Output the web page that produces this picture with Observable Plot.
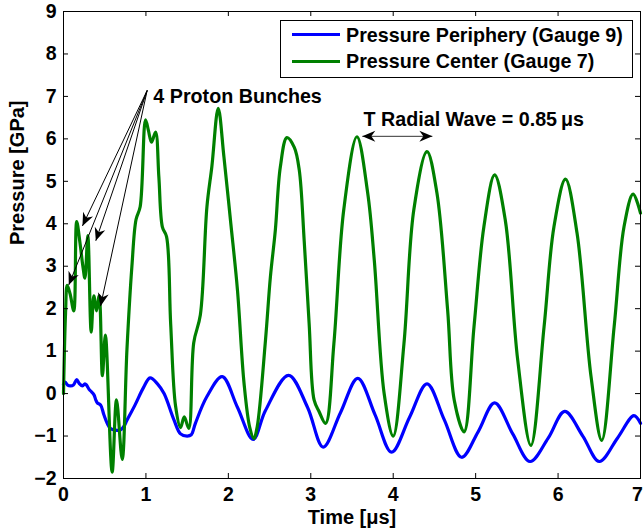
<!DOCTYPE html>
<html><head><meta charset="utf-8">
<script src="https://cdn.jsdelivr.net/npm/d3@7"></script>
<script src="https://cdn.jsdelivr.net/npm/@observablehq/plot@0.6"></script>
<style>
body{margin:0;background:#fff;}
#wrap{position:relative;width:644px;height:531px;font-family:"Liberation Sans",Arial,Helvetica,sans-serif;font-weight:bold;}
#legend{position:absolute;left:280px;top:20px;width:351px;height:56px;border:1px solid #000;background:#fff;}
.row{position:absolute;left:0;height:0;}
.sw{position:absolute;left:11px;width:48px;height:3px;top:-1.5px}
.lab{position:absolute;left:65px;top:-11px;font-size:19.7px;white-space:nowrap;line-height:22px;color:#000}
</style></head><body><div id="wrap"></div>
<script>
// ---- data ----
const seriesNames = ["Pressure Periphery (Gauge 9)", "Pressure Center (Gauge 7)"];
const seriesColors = ["#0000ff", "#008000"];

// [time µs, pressure GPa]
const peripheryData = [[0,0.22],[0.02,0.27],[0.05,0.2],[0.085,0.18],[0.12,0.2],[0.16,0.33],[0.19,0.24],[0.23,0.18],[0.26,0.23],[0.28,0.2],[0.31,0.1],[0.33,0.06],[0.37,-0.03],[0.39,-0.14],[0.41,-0.22],[0.45,-0.27],[0.49,-0.5],[0.53,-0.7],[0.57,-0.82],[0.63,-0.86],[0.69,-0.86],[0.73,-0.78],[0.77,-0.63],[0.87,-0.26],[0.97,0.14],[1.05,0.37],[1.14,0.23],[1.22,0.0],[1.34,-0.62],[1.42,-0.95],[1.5,-1.0],[1.55,-0.97],[1.6,-0.7],[1.74,-0.07],[1.925,0.4],[2.11,-0.32],[2.3,-1.08],[2.45,-0.4],[2.73,0.43],[2.96,-0.32],[3.15,-1.26],[3.36,-0.45],[3.57,0.36],[3.78,-0.5],[3.98,-1.38],[4.2,-0.55],[4.41,0.23],[4.62,-0.62],[4.83,-1.5],[5.03,-0.9],[5.23,-0.22],[5.45,-0.95],[5.66,-1.6],[5.88,-1.05],[6.08,-0.42],[6.3,-1.0],[6.5,-1.6],[6.72,-1.05],[6.92,-0.52],[7.0,-0.7]];

const centerData = [[0,0],[0.025,1.9],[0.045,2.55],[0.08,2.35],[0.125,1.95],[0.16,4.05],[0.2,3.55],[0.235,3.0],[0.26,2.72],[0.295,3.72],[0.336,1.45],[0.368,2.3],[0.40,1.95],[0.433,2.3],[0.472,0.42],[0.508,1.38],[0.59,-1.85],[0.643,-0.15],[0.712,-1.55],[0.77,1.05],[0.83,3.0],[0.88,4.1],[0.93,4.4],[0.995,6.45],[1.03,6.2],[1.068,5.92],[1.117,6.16],[1.157,5.1],[1.2,3.92],[1.25,3.7],[1.30,1.65],[1.36,-0.3],[1.42,-0.8],[1.465,-0.55],[1.52,-0.82],[1.58,1.2],[1.66,1.85],[1.74,4.4],[1.80,5.35],[1.877,6.72],[1.946,5.58],[2.03,4.0],[2.11,2.45],[2.19,0.25],[2.26,-0.8],[2.31,-1.06],[2.35,-0.78],[2.45,1.25],[2.51,2.75],[2.57,3.85],[2.63,5.33],[2.71,6.03],[2.80,5.8],[2.86,5.27],[2.92,3.6],[2.98,1.65],[3.04,-0.15],[3.10,-0.42],[3.18,-0.7],[3.28,1.17],[3.40,4.33],[3.56,6.05],[3.69,4.73],[3.77,3.15],[3.89,0.0],[4.0,-1.0],[4.13,1.17],[4.25,4.33],[4.41,5.7],[4.53,4.73],[4.66,1.97],[4.74,-0.15],[4.86,-0.9],[4.98,1.57],[5.10,3.93],[5.23,5.15],[5.36,4.08],[5.51,0.8],[5.67,-1.22],[5.83,1.57],[5.95,3.93],[6.09,5.05],[6.23,3.78],[6.40,0.4],[6.53,-1.1],[6.68,1.57],[6.80,3.93],[6.91,4.7],[7.0,4.25]];

const xTicks = [0,1,2,3,4,5,6,7];
const yTicks = [-2,-1,0,1,2,3,4,5,6,7,8,9];
const xLabel = "Time [\u03bcs]";
const yLabel = "Pressure [GPa]";

// annotations (data coordinates)
const protonNote = {t: 1.09, v: 6.99, label: "4 Proton Bunches"};
const protonOrigin = {t: 1.015, v: 7.14};
const protonTips = [{t:0.064, v:2.56},{t:0.23, v:3.95},{t:0.392, v:3.6},{t:0.449, v:2.06}];
const radialNote = {t: 3.64, v: 6.45, label: "T Radial Wave = 0.85\u2009\u03bcs"};
const radialArrow = {t1: 3.625, t2: 4.475, v: 6.06};

// ---- chart ----
const W = 644, H = 531, mL = 63, mR = 4, mT = 11, mB = 53;
const plotW = W - mL - mR, plotH = H - mT - mB;
const font = "'Liberation Sans', Arial, Helvetica, sans-serif";
const rows = (arr) => arr.map(([t, v]) => ({t, v}));
const lastX = xTicks[xTicks.length - 1];

const headSymbol = {
  draw(ctx) {
    ctx.moveTo(0, 0);
    ctx.lineTo(-13, -5.5);
    ctx.lineTo(-9, 0);
    ctx.lineTo(-13, 5.5);
    ctx.closePath();
  }
};

function config(heads) {
  return {
    width: W, height: H,
    marginLeft: mL, marginRight: mR, marginTop: mT, marginBottom: mB,
    x: {domain: [0, 7]},
    y: {domain: [-2, 9]},
    style: {fontFamily: font, fontSize: "19.5px", fontWeight: "bold", color: "#000", background: "#fff", overflow: "visible"},
    marks: [
      Plot.line(rows(peripheryData), {x: "t", y: "v", stroke: seriesColors[0], strokeWidth: 3.2, curve: "catmull-rom"}),
      Plot.line(rows(centerData), {x: "t", y: "v", stroke: seriesColors[1], strokeWidth: 3.2, curve: "catmull-rom"}),
      Plot.tickY(yTicks, {y: d => d, insetRight: plotW - 5, stroke: "#000"}),
      Plot.tickY(yTicks, {y: d => d, insetLeft: plotW - 5, stroke: "#000"}),
      Plot.tickX(xTicks, {x: d => d, insetTop: plotH - 5, stroke: "#000"}),
      Plot.tickX(xTicks, {x: d => d, insetBottom: plotH - 5, stroke: "#000"}),
      Plot.frame({stroke: "#000", strokeWidth: 1}),
      Plot.axisX(xTicks.filter(d => d !== lastX), {tickSize: 0, tickPadding: 9, label: null}),
      Plot.axisX([lastX], {tickSize: 0, tickPadding: 9, label: null, dx: -3}),
      Plot.axisY(yTicks, {tickSize: 0, tickPadding: 7, label: null}),
      Plot.text([xLabel], {text: d => d, frameAnchor: "bottom", dy: 45, fontSize: 20, fontWeight: "bold"}),
      Plot.text([yLabel], {text: d => d, frameAnchor: "left", dx: -46, rotate: -90, fontSize: 20, fontWeight: "bold"}),
      // proton bunch arrows
      Plot.link(protonTips, {x1: () => protonOrigin.t, y1: () => protonOrigin.v, x2: "t", y2: "v", stroke: "#000", strokeWidth: 1}),
      Plot.text([protonNote], {x: "t", y: "v", text: "label", textAnchor: "start", fontSize: 19.7, fontWeight: "bold"}),
      // radial wave arrow
      Plot.link([radialArrow], {x1: "t1", x2: "t2", y1: "v", y2: "v", stroke: "#333", strokeWidth: 1}),
      Plot.text([radialNote], {x: "t", y: "v", text: "label", textAnchor: "start", fontSize: 19.7, fontWeight: "bold"}),
      ...heads
    ]
  };
}

const base = Plot.plot(config([]));
const sx = base.scale("x"), sy = base.scale("y");
const protonHeads = protonTips.map(d => ({
  t: d.t, v: d.v,
  angle: Math.atan2(sy.apply(d.v) - sy.apply(protonOrigin.v), sx.apply(d.t) - sx.apply(protonOrigin.t)) * 180 / Math.PI
}));
const radialHeads = [
  {t: radialArrow.t1, v: radialArrow.v, angle: 180},
  {t: radialArrow.t2, v: radialArrow.v, angle: 0}
];
const heads = [
  Plot.dot(protonHeads.concat(radialHeads), {x: "t", y: "v", rotate: "angle", symbol: headSymbol, r: 5, fill: "#000", stroke: "none"})
];

const chart = Plot.plot(config(heads));
const wrap = document.getElementById("wrap");
wrap.appendChild(chart);

// legend
const legend = document.createElement("div");
legend.id = "legend";
const rowTops = [13.5, 40];
seriesNames.forEach((name, i) => {
  const row = document.createElement("div");
  row.className = "row";
  row.style.top = rowTops[i] + "px";
  const sw = document.createElement("div");
  sw.className = "sw";
  sw.style.background = seriesColors[i];
  const lab = document.createElement("div");
  lab.className = "lab";
  lab.textContent = name;
  row.appendChild(sw); row.appendChild(lab);
  legend.appendChild(row);
});
wrap.appendChild(legend);
</script></body></html>
